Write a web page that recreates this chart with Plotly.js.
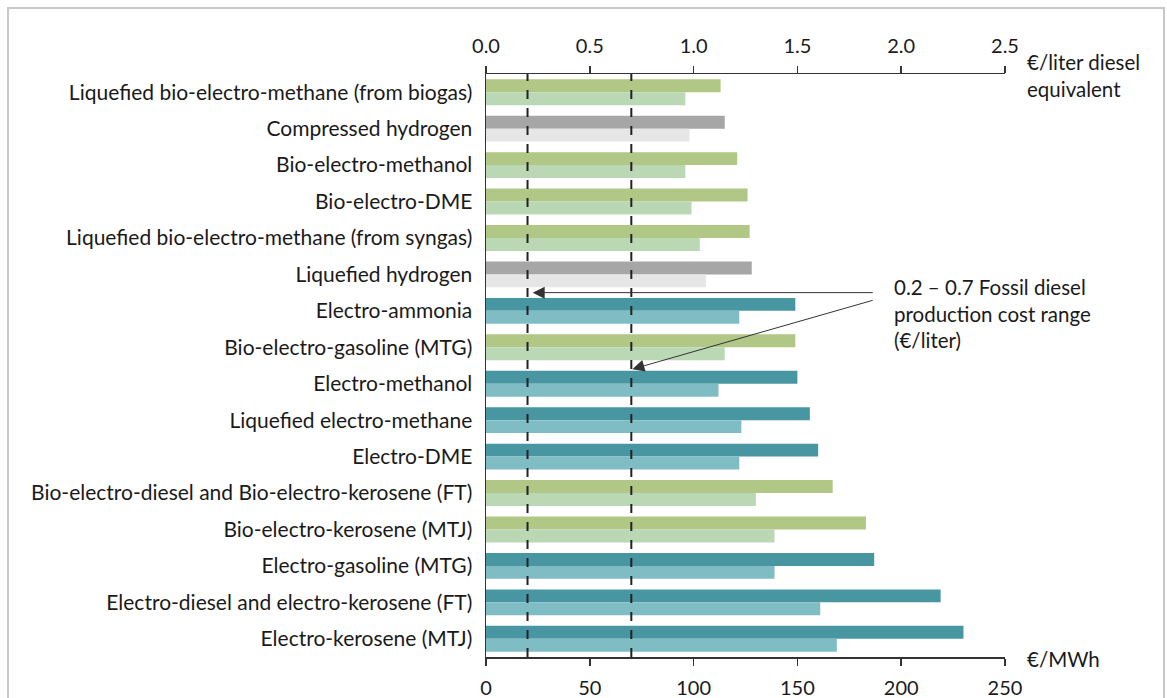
<!DOCTYPE html>
<html>
<head>
<meta charset="utf-8">
<script src="https://cdn.plot.ly/plotly-3.0.1.min.js"></script>
<style>
html,body{margin:0;padding:0;background:#fff;overflow:hidden;}
#wrap{position:relative;width:1167px;height:698px;}
#chart{position:absolute;left:0;top:0;width:1167px;height:698px;}
#frame{position:absolute;left:7px;top:7px;width:1154px;height:720px;border:2px solid #C8C8C8;pointer-events:none;}
</style>
</head>
<body>
<div id="wrap"><div id="chart"></div><div id="frame"></div></div>
<script>
const categories = [
  "Liquefied bio-electro-methane (from biogas)",
  "Compressed hydrogen",
  "Bio-electro-methanol",
  "Bio-electro-DME",
  "Liquefied bio-electro-methane (from syngas)",
  "Liquefied hydrogen",
  "Electro-ammonia",
  "Bio-electro-gasoline (MTG)",
  "Electro-methanol",
  "Liquefied electro-methane",
  "Electro-DME",
  "Bio-electro-diesel and Bio-electro-kerosene (FT)",
  "Bio-electro-kerosene (MTJ)",
  "Electro-gasoline (MTG)",
  "Electro-diesel and electro-kerosene (FT)",
  "Electro-kerosene (MTJ)"
];
const fuelType = ["bio","h2","bio","bio","bio","h2","e","bio","e","e","e","bio","bio","e","e","e"];
const upperValues = [113,115,121,126,127,128,149,149,150,156,160,167,183,187,219,230];
const lowerValues = [96,98,96,99,103,106,122,115,112,123,122,130,139,139,161,169];
const mwhTicks = [0,50,100,150,200,250];
const literTicks = [0.0,0.5,1.0,1.5,2.0,2.5];
const fossilRange = [20,70];

const darkColor = {bio:"#B0C785", h2:"#A6A6A6", e:"#4996A3"};
const lightColor = {bio:"#BBD8B4", h2:"#E6E6E6", e:"#80BCC4"};

const FONT = "Lato, 'Open Sans', sans-serif";
const TXT = "#1a1a1a";

const traces = [
  {type:"bar", orientation:"h", y:categories, x:upperValues,
   marker:{color:fuelType.map(t=>darkColor[t]), line:{width:0}}, hoverinfo:"x+y", showlegend:false},
  {type:"bar", orientation:"h", y:categories, x:lowerValues,
   marker:{color:fuelType.map(t=>lightColor[t]), line:{width:0}}, hoverinfo:"x+y", showlegend:false},
  {type:"scatter", mode:"none", x:[], y:[], xaxis:"x2", yaxis:"y", showlegend:false, hoverinfo:"skip"}
];

const shapes = fossilRange.map(v => ({type:"line", xref:"x", yref:"paper", x0:v, x1:v, y0:0, y1:1,
  line:{color:"#222", width:2, dash:"dash"}, layer:"above"}));

const annotations = [
  {xref:"x", yref:"y", axref:"x", ayref:"y", x:22.5, y:5.5, ax:187, ay:5.5, text:"",
   showarrow:true, arrowhead:2, arrowsize:2.4, arrowwidth:1, arrowcolor:"#333", standoff:0},
  {xref:"x", yref:"y", axref:"x", ayref:"y", x:70.5, y:7.6, ax:187, ay:5.7, text:"",
   showarrow:true, arrowhead:2, arrowsize:2.4, arrowwidth:1, arrowcolor:"#333", standoff:0},
  {xref:"x", yref:"y", x:195.5, y:6.06, xanchor:"left", yanchor:"middle", align:"left", showarrow:false,
   text:"0.2 – 0.7 Fossil diesel<br>production cost range<br>(€/liter)", font:{family:FONT, size:20.5, color:TXT}},
  {xref:"paper", yref:"paper", x:1.0385, y:0.997, xanchor:"left", yanchor:"middle", align:"left", showarrow:false,
   text:"€/liter diesel<br>equivalent", font:{family:FONT, size:20.5, color:TXT}},
  {xref:"paper", yref:"paper", x:1.0385, y:-0.004, xanchor:"left", yanchor:"middle", align:"left", showarrow:false,
   text:"€/MWh", font:{family:FONT, size:20.5, color:TXT}}
];

const layout = {
  width:1167, height:698,
  margin:{l:486, r:162, t:74, b:41, pad:0},
  paper_bgcolor:"#fff", plot_bgcolor:"#fff",
  font:{family:FONT, size:20, color:TXT},
  barmode:"group", bargap:0.29, bargroupgap:0,
  showlegend:false,
  xaxis:{range:[0,250], tickvals:mwhTicks, ticktext:mwhTicks.map(String), showgrid:false, zeroline:false,
    showline:true, linecolor:"#333", linewidth:1.5, ticks:"outside", ticklen:7, tickwidth:1.5, tickcolor:"#333",
    ticklabelstandoff:5, tickfont:{family:FONT, size:20, color:TXT}, fixedrange:true},
  xaxis2:{range:[0,2.5], overlaying:"x", side:"top", anchor:"y", tickvals:literTicks, ticktext:literTicks.map(v=>v.toFixed(1)),
    showgrid:false, zeroline:false, showline:true, linecolor:"#333", linewidth:1.5, ticks:"outside", ticklen:7,
    tickwidth:1.5, tickcolor:"#333", ticklabelstandoff:5, tickfont:{family:FONT, size:20, color:TXT}, fixedrange:true},
  yaxis:{type:"category", categoryorder:"array", categoryarray:categories, range:[15.5,-0.5],
    showgrid:false, zeroline:false, showline:true, linecolor:"#333", linewidth:1.5, ticks:"", ticklabelstandoff:8,
    tickfont:{family:FONT, size:21, color:TXT}, fixedrange:true},
  shapes:shapes,
  annotations:annotations
};

Plotly.newPlot("chart", traces, layout, {displayModeBar:false, staticPlot:true});
</script>
</body>
</html>
